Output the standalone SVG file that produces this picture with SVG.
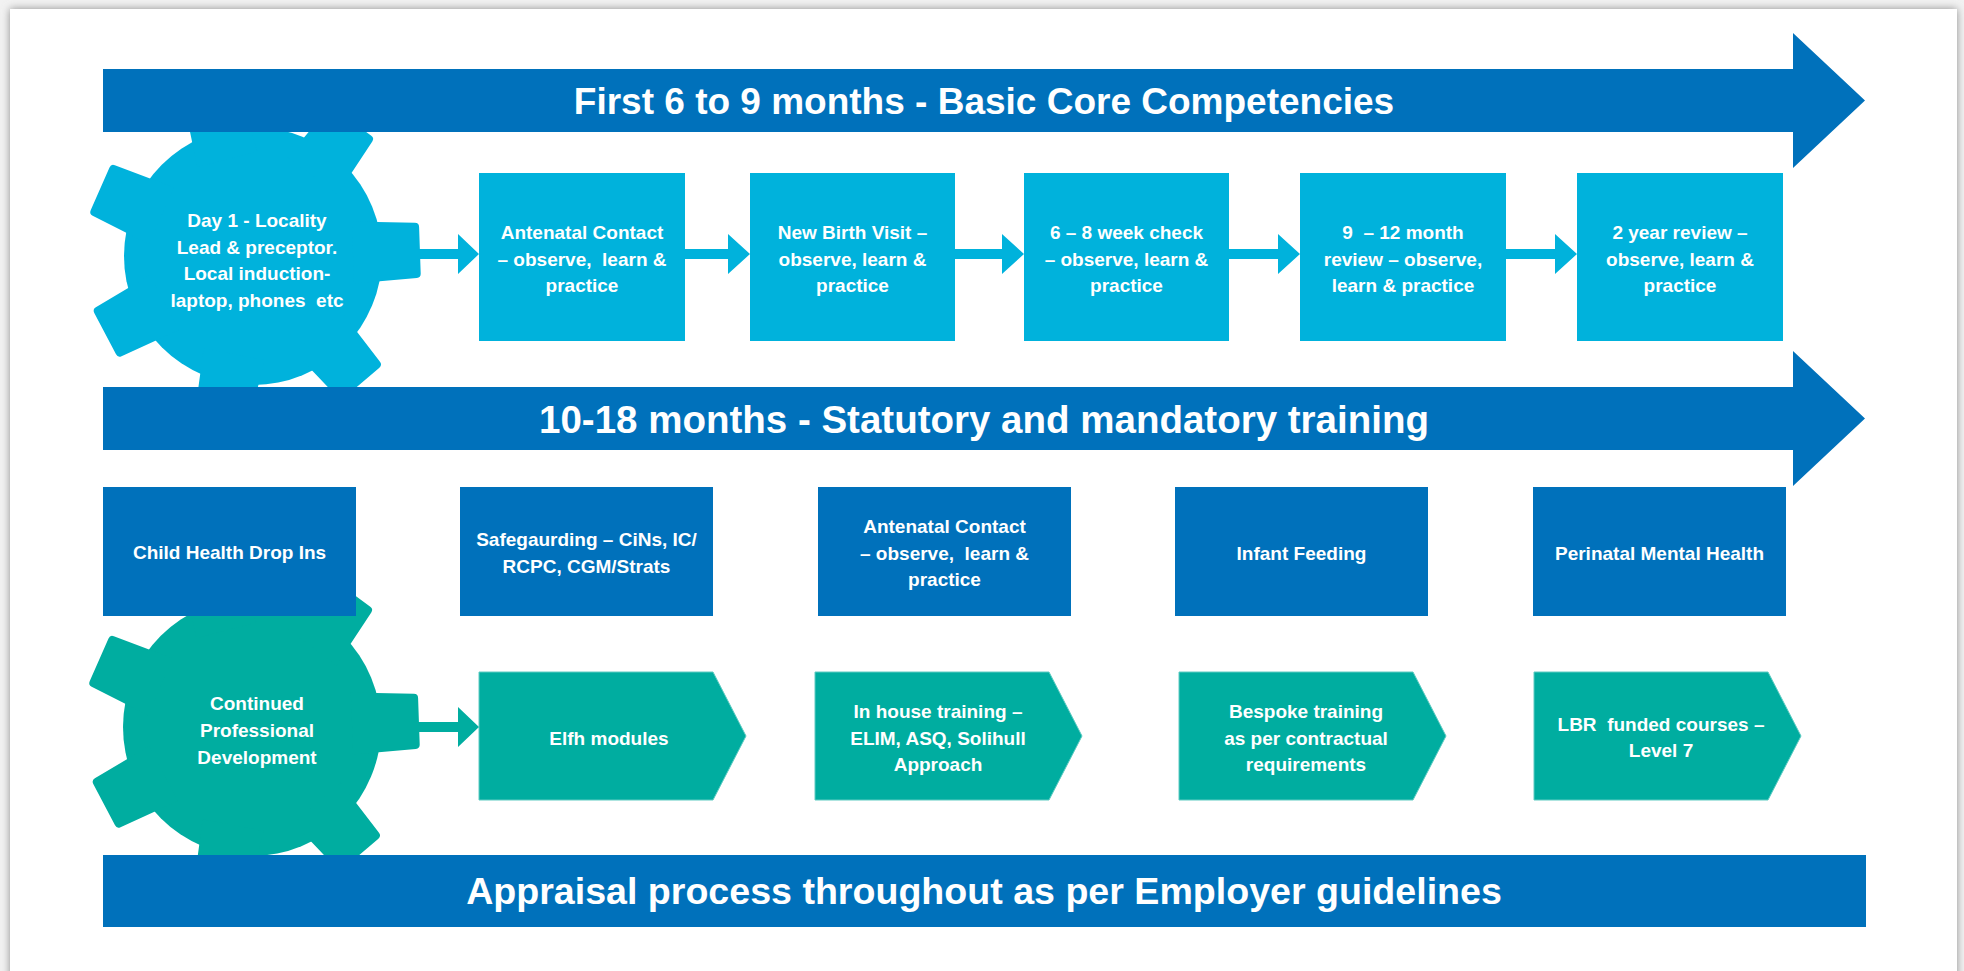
<svg xmlns="http://www.w3.org/2000/svg" width="1964" height="971" viewBox="0 0 1964 971">
<style>
.t{font-family:"Liberation Sans",Arial,sans-serif;font-weight:bold;fill:#ffffff;text-anchor:middle;white-space:pre}
.s{font-size:19px}
.ttl{font-size:37px}
.dark{fill:#0071BB}
.light{fill:#00B2DC}
.teal{fill:#00ADA0}
.pent{fill:#00ADA0;stroke:#5ECBC2;stroke-width:1}
</style>
<defs>
<filter id="shadow" x="-5%" y="-5%" width="110%" height="110%">
<feGaussianBlur stdDeviation="4"/>
</filter>
<path id="tooth" d="M100,-31 L163,-27.6 Q167,-27.4 167,-23.4 L167,23.4 Q167,27.4 163,27.6 L100,31 Z"/>
<g id="gear">
<circle r="129"/>
<use href="#tooth" transform="rotate(-2)"/>
<use href="#tooth" transform="rotate(-53.43)"/>
<use href="#tooth" transform="rotate(-104.86)"/>
<use href="#tooth" transform="rotate(-156.29)"/>
<use href="#tooth" transform="rotate(152.29)"/>
<use href="#tooth" transform="rotate(100.86)"/>
<use href="#tooth" transform="rotate(49.43)"/>
</g>
</defs>

<!-- page -->
<rect x="0" y="0" width="1964" height="971" fill="#f2f2f2"/>
<rect x="10" y="9" width="1947" height="990" fill="#8c8c8c" filter="url(#shadow)"/>
<rect x="10" y="9" width="1947" height="990" fill="#ffffff"/>

<!-- gears (behind bars) -->
<g id="gear-day1">
<use href="#gear" transform="translate(253,256)" class="light"/>
<text class="t s" x="257" y="227">Day 1 - Locality</text>
<text class="t s" x="257" y="254">Lead &amp; preceptor.</text>
<text class="t s" x="257" y="280">Local induction-</text>
<text class="t s" x="257" y="307">laptop, phones  etc</text>
</g>
<g id="gear-cpd">
<use href="#gear" transform="translate(252,727)" class="teal"/>
<text class="t s" x="257" y="710">Continued</text>
<text class="t s" x="257" y="737">Professional</text>
<text class="t s" x="257" y="764">Development</text>
</g>

<!-- phase bars -->
<g id="bar-first">
<path class="dark" d="M103,69 H1793 V33 L1865,100.5 L1793,168 V132 H103 Z"/>
<text class="t ttl" x="984" y="114">First 6 to 9 months - Basic Core Competencies</text>
</g>
<g id="bar-statutory">
<path class="dark" d="M103,387 H1793 V351 L1865,418.5 L1793,486 V450 H103 Z"/>
<text class="t ttl" x="984" y="433" style="font-size:38.5px">10-18 months - Statutory and mandatory training</text>
</g>
<g id="bar-appraisal">
<rect class="dark" x="103" y="855" width="1763" height="72"/>
<text class="t ttl" x="984" y="904" style="font-size:37.6px">Appraisal process throughout as per Employer guidelines</text>
</g>

<!-- row 2: core competencies -->
<g id="box-antenatal">
<rect class="light" x="479" y="173" width="206" height="168"/>
<text class="t s" x="582" y="239">Antenatal Contact</text>
<text class="t s" x="582" y="265.5">– observe,  learn &amp;</text>
<text class="t s" x="582" y="292">practice</text>
</g>
<g id="box-newbirth">
<rect class="light" x="750" y="173" width="205" height="168"/>
<text class="t s" x="852.5" y="239">New Birth Visit –</text>
<text class="t s" x="852.5" y="265.5">observe, learn &amp;</text>
<text class="t s" x="852.5" y="292">practice</text>
</g>
<g id="box-6-8week">
<rect class="light" x="1024" y="173" width="205" height="168"/>
<text class="t s" x="1126.5" y="239">6 – 8 week check</text>
<text class="t s" x="1126.5" y="265.5">– observe, learn &amp;</text>
<text class="t s" x="1126.5" y="292">practice</text>
</g>
<g id="box-9-12month">
<rect class="light" x="1300" y="173" width="206" height="168"/>
<text class="t s" x="1403" y="239">9  – 12 month</text>
<text class="t s" x="1403" y="265.5">review – observe,</text>
<text class="t s" x="1403" y="292">learn &amp; practice</text>
</g>
<g id="box-2year">
<rect class="light" x="1577" y="173" width="206" height="168"/>
<text class="t s" x="1680" y="239">2 year review –</text>
<text class="t s" x="1680" y="265.5">observe, learn &amp;</text>
<text class="t s" x="1680" y="292">practice</text>
</g>

<!-- row 3: statutory training -->
<g id="box-childhealth">
<rect class="dark" x="103" y="487" width="253" height="129"/>
<text class="t s" x="229.5" y="559">Child Health Drop Ins</text>
</g>
<g id="box-safeguarding">
<rect class="dark" x="460" y="487" width="253" height="129"/>
<text class="t s" x="586.5" y="546">Safegaurding – CiNs, IC/</text>
<text class="t s" x="586.5" y="573">RCPC, CGM/Strats</text>
</g>
<g id="box-antenatal2">
<rect class="dark" x="818" y="487" width="253" height="129"/>
<text class="t s" x="944.5" y="533">Antenatal Contact</text>
<text class="t s" x="944.5" y="560">– observe,  learn &amp;</text>
<text class="t s" x="944.5" y="586">practice</text>
</g>
<g id="box-infantfeeding">
<rect class="dark" x="1175" y="487" width="253" height="129"/>
<text class="t s" x="1301.5" y="560">Infant Feeding</text>
</g>
<g id="box-perinatal">
<rect class="dark" x="1533" y="487" width="253" height="129"/>
<text class="t s" x="1659.5" y="560">Perinatal Mental Health</text>
</g>

<!-- row 4: CPD -->
<g id="pent-elfh">
<path class="pent" d="M479,672 H713 L746,736 L713,800 H479 Z"/>
<text class="t s" x="609" y="745">Elfh modules</text>
</g>
<g id="pent-inhouse">
<path class="pent" d="M815,672 H1049 L1082,736 L1049,800 H815 Z"/>
<text class="t s" x="938" y="718">In house training –</text>
<text class="t s" x="938" y="745">ELIM, ASQ, Solihull</text>
<text class="t s" x="938" y="771">Approach</text>
</g>
<g id="pent-bespoke">
<path class="pent" d="M1179,672 H1413 L1446,736 L1413,800 H1179 Z"/>
<text class="t s" x="1306" y="718">Bespoke training</text>
<text class="t s" x="1306" y="745">as per contractual</text>
<text class="t s" x="1306" y="771">requirements</text>
</g>
<g id="pent-lbr">
<path class="pent" d="M1534,672 H1768 L1801,736 L1768,800 H1534 Z"/>
<text class="t s" x="1661" y="731">LBR  funded courses –</text>
<text class="t s" x="1661" y="757">Level 7</text>
</g>

<!-- connectors -->
<g id="connectors" class="light">
<path d="M419,249 H458 V234 L479,254 L458,274 V259 H419 Z"/>
<path d="M685,249 H728 V234 L750,254 L728,274 V259 H685 Z"/>
<path d="M955,249 H1002 V234 L1024,254 L1002,274 V259 H955 Z"/>
<path d="M1229,249 H1278 V234 L1300,254 L1278,274 V259 H1229 Z"/>
<path d="M1506,249 H1555 V234 L1577,254 L1555,274 V259 H1506 Z"/>
<path class="teal" d="M417,722 H458 V707 L479,727 L458,747 V732 H417 Z"/>
</g>
</svg>
